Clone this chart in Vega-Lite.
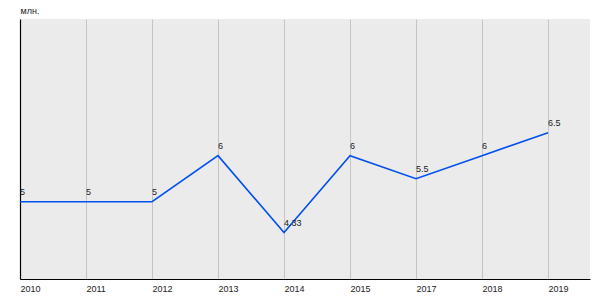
{
  "$schema": "https://vega.github.io/schema/vega-lite/v6.json",
  "width": 570,
  "height": 260,
  "autosize": "none",
  "padding": {"left": 20, "top": 19, "right": 10, "bottom": 21},
  "background": "white",
  "config": {
    "view": {"fill": "#ebebeb", "stroke": null},
    "font": "Liberation Sans"
  },
  "data": {
    "values": [
      {"year": "2010", "value": 5, "label": "5"},
      {"year": "2011", "value": 5, "label": "5"},
      {"year": "2012", "value": 5, "label": "5"},
      {"year": "2013", "value": 6, "label": "6"},
      {"year": "2014", "value": 4.33, "label": "4.33"},
      {"year": "2015", "value": 6, "label": "6"},
      {"year": "2017", "value": 5.5, "label": "5.5"},
      {"year": "2018", "value": 6, "label": "6"},
      {"year": "2019", "value": 6.5, "label": "6.5"}
    ]
  },
  "encoding": {
    "x": {
      "field": "year",
      "type": "ordinal",
      "sort": null,
      "scale": {"type": "point", "padding": 0.318, "align": 0},
      "axis": {
        "title": null,
        "labelAngle": 0,
        "labelAlign": "left",
        "labelFontSize": 9,
        "labelColor": "#222",
        "labelPadding": 5,
        "ticks": false,
        "domainColor": "#000",
        "domainWidth": 1.2,
        "grid": true,
        "gridColor": "#c4c4c4",
        "gridWidth": 1
      }
    },
    "y": {
      "field": "value",
      "type": "quantitative",
      "scale": {"domain": [3.32, 8.97], "nice": false, "zero": false},
      "axis": {
        "title": "млн.",
        "titleAngle": 0,
        "titleAlign": "left",
        "titleBaseline": "alphabetic",
        "titleX": 0,
        "titleY": -6,
        "titleFontSize": 9,
        "titleFontWeight": "normal",
        "titleColor": "#222",
        "labels": false,
        "ticks": false,
        "grid": false,
        "domainColor": "#000",
        "domainWidth": 1.2
      }
    }
  },
  "layer": [
    {
      "mark": {"type": "line", "color": "#0050ef", "strokeWidth": 1.6}
    },
    {
      "mark": {"type": "text", "align": "left", "baseline": "alphabetic", "dy": -7, "fontSize": 9, "color": "#222"},
      "encoding": {"text": {"field": "label"}}
    }
  ]
}
